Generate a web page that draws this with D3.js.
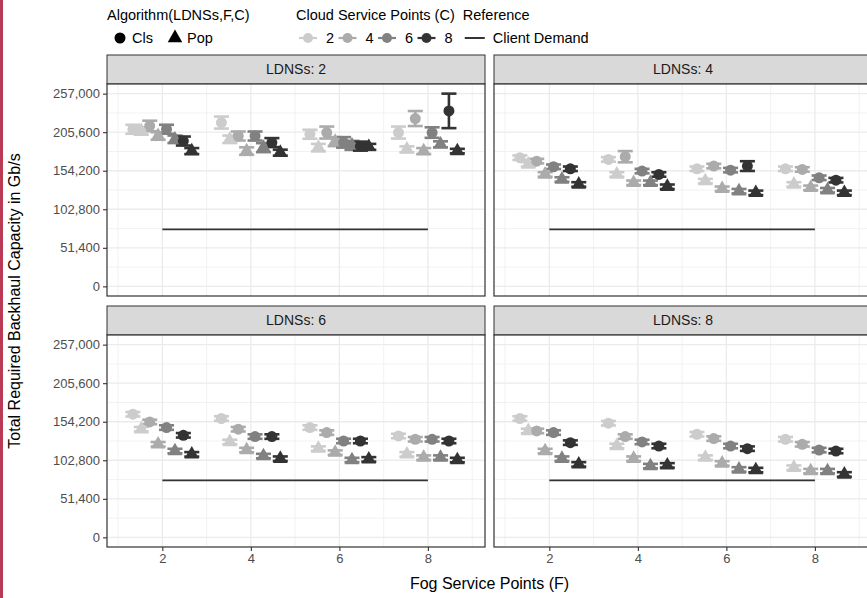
<!DOCTYPE html>
<html>
<head>
<meta charset="utf-8">
<script src="https://cdn.jsdelivr.net/npm/d3@7"></script>
<style>
body { margin: 0; background: #fff; }
svg { display: block; font-family: "Liberation Sans", Arial, Helvetica, sans-serif; }
</style>
</head>
<body>
<script>
var ldnsLevels = [2, 4, 6, 8]
var fogPoints = [2, 4, 6, 8]
var cloudPoints = [2, 4, 6, 8]
var algorithms = ['Cls', 'Pop']
var yTicks = [0, 51400, 102800, 154200, 205600, 257000]
var yMinor = [25700, 77100, 128500, 179900, 231300]
var xMinor = [1, 3, 5, 7, 9]
var clientDemand = [76000, 76000, 76000, 76000]

// means: one row per F (2,4,6,8), columns are C = 2,4,6,8
var clsLdns2 = [[209500, 213900, 209500, 193800], [218400, 200500, 200500, 191700], [202800, 205100, 192000, 187000], [205100, 223800, 205100, 234000]]
var popLdns2 = [[207200, 200500, 196100, 180400], [196100, 180400, 185000, 178300], [185000, 193000, 188000, 186000], [182700, 180400, 189400, 180400]]
var clsLdns4 = [[171600, 167000, 159500, 156800], [169300, 172900, 153700, 149200], [156800, 160400, 155000, 160400], [156800, 155900, 144800, 141600]]
var popLdns4 = [[162600, 149200, 142500, 135900], [149200, 138100, 138100, 132800], [140300, 130100, 126900, 124700], [135900, 131400, 128200, 124700]]
var clsLdns6 = [[164200, 153900, 146400, 136100], [158500, 144200, 134400, 134400], [146400, 139700, 128500, 128500], [135200, 130800, 130800, 128500]]
var popLdns6 = [[144200, 124100, 115100, 110700], [127200, 116400, 108400, 104900], [118300, 113000, 103100, 104000], [110700, 106300, 106300, 103100]]
var clsLdns8 = [[158500, 141900, 139700, 126300], [152200, 134400, 127200, 121800], [137500, 131700, 121800, 118300], [130800, 124100, 116400, 115100]]
var popLdns8 = [[141900, 115100, 104900, 97300], [121800, 104900, 95000, 96000], [106300, 98600, 90600, 89700], [92900, 88300, 88300, 83900]]

// half widths of the error bars, same layout
var clsErrLdns2 = [[6000, 7000, 6000, 6000], [8000, 6000, 6000, 6000], [6000, 8000, 7000, 6000], [8000, 10000, 7000, 23000]]
var popErrLdns2 = [[5000, 5000, 5000, 4000], [5000, 5000, 6000, 4000], [5000, 6000, 6000, 4000], [4000, 4000, 4000, 3000]]
var clsErrLdns4 = [[3000, 3000, 3000, 3000], [3000, 7500, 3000, 3000], [3000, 3000, 3000, 6500], [3000, 3000, 3000, 3000]]
var popErrLdns4 = [[3000, 3000, 3000, 3000], [3000, 3000, 3000, 3000], [3000, 3000, 3000, 3000], [3000, 3000, 3000, 3000]]
var clsErrLdns6 = [[3000, 3000, 3000, 3000], [3000, 3000, 3000, 3000], [3000, 3000, 3000, 3000], [3000, 3000, 3000, 3000]]
var popErrLdns6 = [[3000, 3000, 3000, 3000], [3000, 3000, 3000, 3000], [3000, 3000, 3000, 3000], [3000, 3000, 3000, 3000]]
var clsErrLdns8 = [[3000, 3000, 3000, 3000], [3000, 3000, 3000, 3000], [3000, 3000, 3000, 3000], [3000, 3000, 3000, 3000]]
var popErrLdns8 = [[3000, 3000, 3000, 3000], [3000, 3000, 3000, 3000], [3000, 3000, 3000, 3000], [3000, 3000, 3000, 3000]]

var panelMeans = [[clsLdns2, popLdns2], [clsLdns4, popLdns4], [clsLdns6, popLdns6], [clsLdns8, popLdns8]]
var panelErrs = [[clsErrLdns2, popErrLdns2], [clsErrLdns4, popErrLdns4], [clsErrLdns6, popErrLdns6], [clsErrLdns8, popErrLdns8]]

var width = 867, height = 598
var panelW = 378, panelH = 212, stripH = 29
var colX = [107, 494], rowY = [84, 335]
var dodgeStep = 0.19, capW = 0.34

var x = d3.scaleLinear().domain([0.75, 9.29]).range([0, panelW])
var y = d3.scaleLinear().domain([-12850, 269850]).range([panelH, 0])
var grey = d3.scaleOrdinal().domain(cloudPoints).range(['#cccccc', '#ababab', '#818181', '#333333'])
var shape = d3.scaleOrdinal().domain(algorithms).range([d3.symbolCircle, d3.symbolTriangle])
var shapeSize = {Cls: 95, Pop: 92}

var svg = d3.select('body').append('svg')
  .attr('width', width)
  .attr('height', height)

svg.append('rect')
  .attr('x', 0).attr('y', 0)
  .attr('width', 3).attr('height', height)
  .attr('fill', '#b93a55')

ldnsLevels.forEach(function (ldns, p) {
  var row = Math.floor(p / 2), col = p % 2
  var g = svg.append('g')
    .attr('transform', 'translate(' + colX[col] + ',' + rowY[row] + ')')

  // strip
  g.append('rect')
    .attr('x', 0).attr('y', -stripH)
    .attr('width', panelW).attr('height', stripH)
    .attr('fill', '#d9d9d9')
    .attr('stroke', '#333333').attr('stroke-width', 1)
  g.append('text')
    .attr('x', panelW / 2).attr('y', -stripH / 2)
    .attr('dy', '0.35em')
    .attr('text-anchor', 'middle')
    .attr('font-size', 14)
    .attr('fill', '#1a1a1a')
    .text('LDNSs: ' + ldns)

  // grid
  g.append('rect').attr('width', panelW).attr('height', panelH).attr('fill', '#fff')
  g.selectAll('line.ymin').data(yMinor).enter().append('line')
    .attr('x1', 0).attr('x2', panelW)
    .attr('y1', function (d) { return y(d) }).attr('y2', function (d) { return y(d) })
    .attr('stroke', '#f0f0f0').attr('stroke-width', 0.9)
  g.selectAll('line.xmin').data(xMinor).enter().append('line')
    .attr('y1', 0).attr('y2', panelH)
    .attr('x1', function (d) { return x(d) }).attr('x2', function (d) { return x(d) })
    .attr('stroke', '#f0f0f0').attr('stroke-width', 0.9)
  g.selectAll('line.ymaj').data(yTicks).enter().append('line')
    .attr('x1', 0).attr('x2', panelW)
    .attr('y1', function (d) { return y(d) }).attr('y2', function (d) { return y(d) })
    .attr('stroke', '#ebebeb').attr('stroke-width', 1.3)
  g.selectAll('line.xmaj').data(fogPoints).enter().append('line')
    .attr('y1', 0).attr('y2', panelH)
    .attr('x1', function (d) { return x(d) }).attr('x2', function (d) { return x(d) })
    .attr('stroke', '#ebebeb').attr('stroke-width', 1.3)

  // client demand reference
  g.append('line')
    .attr('x1', x(d3.min(fogPoints))).attr('x2', x(d3.max(fogPoints)))
    .attr('y1', y(clientDemand[p])).attr('y2', y(clientDemand[p]))
    .attr('stroke', '#333333').attr('stroke-width', 1.7)

  var rows = []
  fogPoints.forEach(function (f, fi) {
    cloudPoints.forEach(function (c, ci) {
      algorithms.forEach(function (alg, ai) {
        var k = ci * 2 + ai
        rows.push({
          x: f + (k - 3.5) * dodgeStep,
          c: c,
          alg: alg,
          mean: panelMeans[p][ai][fi][ci],
          err: panelErrs[p][ai][fi][ci]
        })
      })
    })
  })

  var eb = g.selectAll('g.eb').data(rows).enter().append('g')
    .attr('stroke', function (d) { return grey(d.c) })
    .attr('stroke-width', 2.6)
  eb.append('line')
    .attr('x1', function (d) { return x(d.x) }).attr('x2', function (d) { return x(d.x) })
    .attr('y1', function (d) { return y(d.mean - d.err) }).attr('y2', function (d) { return y(d.mean + d.err) })
  eb.append('line')
    .attr('x1', function (d) { return x(d.x - capW / 2) }).attr('x2', function (d) { return x(d.x + capW / 2) })
    .attr('y1', function (d) { return y(d.mean - d.err) }).attr('y2', function (d) { return y(d.mean - d.err) })
  eb.append('line')
    .attr('x1', function (d) { return x(d.x - capW / 2) }).attr('x2', function (d) { return x(d.x + capW / 2) })
    .attr('y1', function (d) { return y(d.mean + d.err) }).attr('y2', function (d) { return y(d.mean + d.err) })

  g.selectAll('path.pt').data(rows).enter().append('path')
    .attr('transform', function (d) { return 'translate(' + x(d.x) + ',' + y(d.mean) + ')' })
    .attr('d', function (d) { return d3.symbol(shape(d.alg), shapeSize[d.alg])() })
    .attr('fill', function (d) { return grey(d.c) })

  // border
  g.append('rect').attr('width', panelW).attr('height', panelH)
    .attr('fill', 'none').attr('stroke', '#333333').attr('stroke-width', 1.2)

  if (col === 0) {
    var ya = g.append('g').call(d3.axisLeft(y).tickValues(yTicks).tickFormat(d3.format(',')).tickSize(4).tickPadding(3))
    ya.select('.domain').remove()
    ya.selectAll('line').attr('stroke', '#333333').attr('stroke-width', 1.1)
    ya.selectAll('text').attr('fill', '#4d4d4d').attr('font-size', 13).attr('font-family', null)
  }
  if (row === 1) {
    var xa = g.append('g').attr('transform', 'translate(0,' + panelH + ')')
      .call(d3.axisBottom(x).tickValues(fogPoints).tickSize(4).tickPadding(3))
    xa.select('.domain').remove()
    xa.selectAll('line').attr('stroke', '#333333').attr('stroke-width', 1.1)
    xa.selectAll('text').attr('fill', '#4d4d4d').attr('font-size', 13).attr('font-family', null)
  }
})

// axis titles
svg.append('text')
  .attr('x', (colX[0] + colX[1] + panelW) / 2).attr('y', 589)
  .attr('text-anchor', 'middle').attr('font-size', 16)
  .text('Fog Service Points (F)')
svg.append('text')
  .attr('transform', 'translate(20,' + (rowY[0] - stripH + rowY[1] + panelH) / 2 + ') rotate(-90)')
  .attr('text-anchor', 'middle').attr('font-size', 16)
  .text('Total Required Backhaul Capacity in Gb/s')

// legends
var lg = svg.append('g').attr('font-size', 14.5)
var row1 = 20, row2 = 43

lg.append('text').attr('x', 107).attr('y', row1).text('Algorithm(LDNSs,F,C)')
var algX = [120, 175]
algorithms.forEach(function (alg, i) {
  lg.append('path')
    .attr('transform', 'translate(' + algX[i] + ',' + (row2 - 5) + ')')
    .attr('d', d3.symbol(shape(alg), shapeSize[alg])())
    .attr('fill', '#000')
  lg.append('text').attr('x', algX[i] + 12).attr('y', row2).text(alg)
})

var cloudTitle = lg.append('text').attr('x', 296).attr('y', row1).text('Cloud Service Points (C)')
cloudPoints.forEach(function (c, i) {
  var cx = 308 + i * 39.5
  lg.append('line')
    .attr('x1', cx - 9).attr('x2', cx + 9)
    .attr('y1', row2 - 5).attr('y2', row2 - 5)
    .attr('stroke', grey(c)).attr('stroke-width', 2.2)
  lg.append('circle').attr('cx', cx).attr('cy', row2 - 5).attr('r', 5).attr('fill', grey(c))
  lg.append('text').attr('x', cx + 18).attr('y', row2).text(c)
})

var refX = 296 + cloudTitle.node().getComputedTextLength() + 8
lg.append('text').attr('x', refX).attr('y', row1).text('Reference')
lg.append('line')
  .attr('x1', refX + 2).attr('x2', refX + 22)
  .attr('y1', row2 - 5).attr('y2', row2 - 5)
  .attr('stroke', '#000').attr('stroke-width', 1.6)
lg.append('text').attr('x', refX + 30).attr('y', row2).text('Client Demand')
</script>
</body>
</html>
